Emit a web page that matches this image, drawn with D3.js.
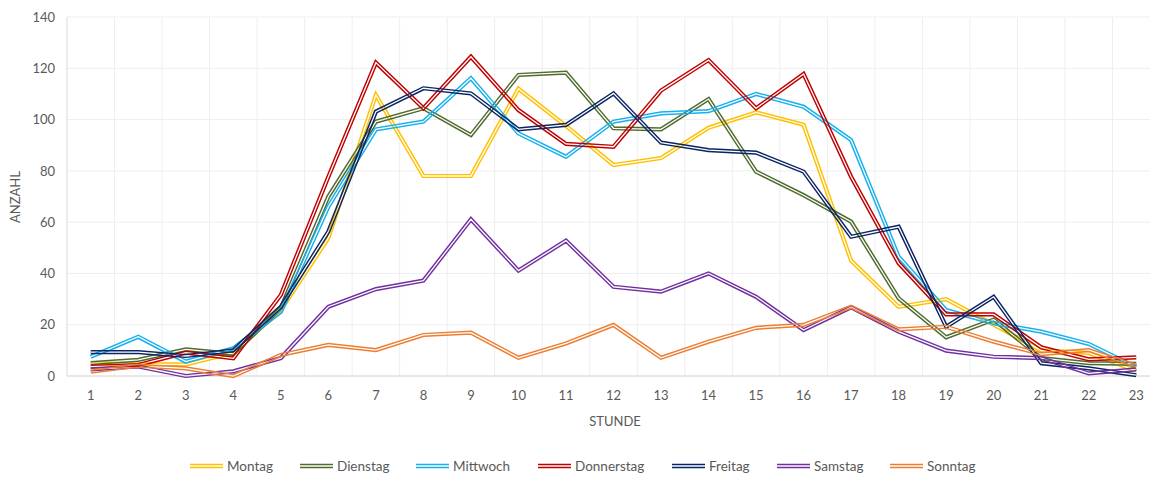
<!DOCTYPE html>
<html><head><meta charset="utf-8">
<script src="https://cdn.jsdelivr.net/npm/d3@7"></script>
<style>body{margin:0;background:#fff}svg{display:block;font-family:Lato,"Open Sans",sans-serif}</style>
</head><body><svg id="c" width="1150" height="478"></svg>
<script>
const hours = d3.range(1, 24).map(String);
const yTicks = [0, 20, 40, 60, 80, 100, 120, 140];
const seriesNames = ["Montag","Dienstag","Mittwoch","Donnerstag","Freitag","Samstag","Sonntag"];
const seriesColors = ["#FFC000","#4F6B2D","#17B0EE","#C00000","#0B2463","#7030A0","#ED7D31"];
const montag =     [5, 4.5, 4.5, 9, 25.7, 53.8, 109.6, 78, 78, 112, 97.5, 82.3, 85, 96.8, 102.8, 98, 45, 27, 30, 20, 10, 9, 2];
const dienstag =   [5, 6.3, 10.4, 8.6, 26.5, 70, 99.2, 104.4, 94, 117.4, 118.3, 96.6, 96.2, 108, 79.7, 70.5, 60.2, 30.3, 15.1, 22, 7, 5, 4.7];
const mittwoch =   [7.5, 15.3, 5.6, 10.8, 25, 66, 96.2, 99.2, 116.1, 94.6, 85.5, 99.2, 102.4, 103.3, 110, 105, 92, 46.5, 25.7, 20.6, 17.3, 12.5, 3.5];
const donnerstag = [3.6, 4.3, 9.1, 6.9, 31.6, 77.7, 122.2, 104.4, 124.5, 103.7, 90.5, 89.4, 111.3, 123.2, 104.4, 117.8, 77.7, 44, 24, 24, 11.2, 6.5, 7.3];
const freitag =    [9.3, 9.3, 7.8, 10, 27, 56.3, 103.1, 112.2, 110.2, 96.2, 97.9, 110.2, 91, 88.1, 87.1, 79.7, 54.3, 58.2, 19.2, 30.9, 5, 3, 0.3];
const samstag =    [2.6, 3.7, 0, 1.8, 7, 27, 33.9, 37.2, 61.1, 41.1, 52.8, 34.8, 32.9, 40, 30.9, 17.9, 26.8, 17.3, 9.9, 7.5, 7, 1, 2.6];
const sonntag =    [1.7, 4, 3, 0, 8.2, 12.1, 10.1, 16, 16.9, 7.1, 12.7, 19.9, 7.1, 13.4, 18.8, 19.9, 27, 18.2, 19.2, 13.4, 8.5, 10.1, 4];
const seriesValues = [montag, dienstag, mittwoch, donnerstag, freitag, samstag, sonntag];

const svg = d3.select("#c");
const L = 67, R = 1160, T = 17, B = 376;
const x = d3.scaleBand().domain(hours).range([L, R]);
const y = d3.scaleLinear().domain([0, 140]).range([B, T]);
const txt = "#595959";

// gridlines
const g = svg.append("g");
g.selectAll(".hg").data(yTicks.filter(d => d > 0)).join("line")
  .attr("x1", L).attr("x2", R).attr("y1", d => y(d)).attr("y2", d => y(d))
  .attr("stroke", "#eeeeee").attr("stroke-width", 1);
g.selectAll(".vg").data(hours.slice(1)).join("line")
  .attr("x1", d => x(d)).attr("x2", d => x(d)).attr("y1", T).attr("y2", B)
  .attr("stroke", "#eeeeee").attr("stroke-width", 1);
g.append("line").attr("x1", R).attr("x2", R).attr("y1", T).attr("y2", B).attr("stroke", "#eeeeee");
g.append("line").attr("x1", L).attr("x2", L).attr("y1", T).attr("y2", B).attr("stroke", "#d9d9d9");
g.append("line").attr("x1", L).attr("x2", R).attr("y1", B).attr("y2", B).attr("stroke", "#d0d0d0");

// y axis labels
const yAxis = d3.axisLeft(y).tickValues(yTicks).tickSize(0).tickPadding(12);
const ya = svg.append("g").attr("transform", `translate(${L},0)`).call(yAxis);
ya.select(".domain").remove();
ya.selectAll("text").attr("fill", txt).style("font-size", "13px").style("font-family", "Lato,sans-serif");

// x axis labels
const xAxis = d3.axisBottom(x).tickSize(0).tickPadding(15);
const xa = svg.append("g").attr("transform", `translate(0,${B})`).call(xAxis);
xa.select(".domain").remove();
xa.selectAll("text").attr("fill", txt).style("font-size", "13px").style("font-family", "Lato,sans-serif");

// titles
svg.append("text").attr("x", 615).attr("y", 426).attr("text-anchor", "middle")
  .attr("fill", txt).style("font-size", "13px").text("STUNDE");
svg.append("text").attr("transform", "translate(20,197) rotate(-90)").attr("text-anchor", "middle")
  .attr("fill", txt).style("font-size", "13px").text("ANZAHL");

// lines (double, transparent center via mask)
const line = d3.line().x((d, i) => x(hours[i]) + x.bandwidth() / 2).y(d => y(d));
const defs = svg.append("defs");
seriesValues.forEach((vals, i) => {
  const d = line(vals);
  const m = defs.append("mask").attr("id", "m" + i).attr("maskUnits", "userSpaceOnUse")
    .attr("x", 0).attr("y", 0).attr("width", 1150).attr("height", 478);
  m.append("rect").attr("width", 1150).attr("height", 478).attr("fill", "#fff");
  m.append("path").attr("d", d).attr("fill", "none").attr("stroke", "#000").attr("stroke-width", 1.3)
    .attr("stroke-linejoin", "miter");
  svg.append("path").attr("d", d).attr("fill", "none").attr("stroke", seriesColors[i])
    .attr("stroke-width", 4.2).attr("stroke-linejoin", "miter").attr("mask", `url(#m${i})`);
});

// legend
const legX = [190, 300, 416, 538, 672, 777, 890];
const leg = svg.append("g");
seriesNames.forEach((n, i) => {
  const lx = legX[i], ly = 466;
  leg.append("line").attr("x1", lx).attr("x2", lx + 33).attr("y1", ly - 1.4).attr("y2", ly - 1.4)
    .attr("stroke", seriesColors[i]).attr("stroke-width", 1.5);
  leg.append("line").attr("x1", lx).attr("x2", lx + 33).attr("y1", ly + 1.4).attr("y2", ly + 1.4)
    .attr("stroke", seriesColors[i]).attr("stroke-width", 1.5);
  leg.append("text").attr("x", lx + 37).attr("y", ly + 5).attr("fill", txt)
    .style("font-size", "13.5px").text(n);
});
</script></body></html>
